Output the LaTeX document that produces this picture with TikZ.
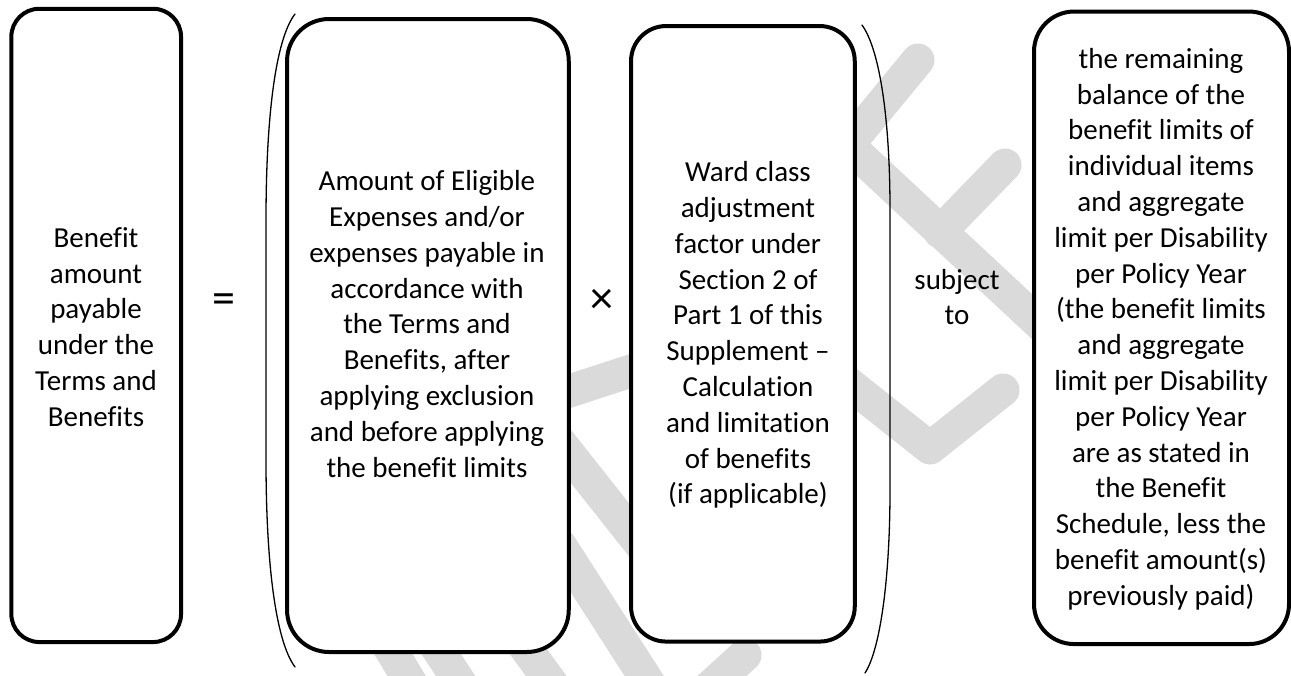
\documentclass[tikz,border=0pt]{standalone}
\usepackage{fontspec}
\setmainfont{Carlito}[Ligatures=NoCommon]
\definecolor{wm}{RGB}{218,218,218}
\begin{document}
\begin{tikzpicture}[x=1pt,y=-1pt,
  box/.style={draw=black,line width=4pt,fill=white,inner sep=0pt},
  txt/.style={align=center,font=\fontsize{29}{35.8}\selectfont,inner sep=0pt},
  op/.style={font=\fontsize{46}{50}\selectfont,inner sep=0pt},
  wmark/.style={draw=wm,line width=33pt,line cap=round,line join=round},
  paren/.style={line width=1.3pt,line cap=round}]
\useasboundingbox (0,0) rectangle (1291,675);
% watermark (behind the boxes)
\draw[wmark] (918,60) -- (848,145) -- (1100,380);
\draw[wmark] (1005,165) -- (940,232);
\draw[wmark] (800,345) -- (930,448) -- (1003,390);
\draw[wmark] (548,398) -- (640,368);
\draw[wmark] (550,430) -- (645,550);
\draw[wmark] (560,545) -- (650,685);
\draw[wmark] (385,640) -- (418,695);
\draw[wmark] (432,640) -- (468,695);
\draw[wmark] (520,640) -- (560,695);
\draw[wmark] (745,655) -- (690,705);
% boxes
\node[box,rounded corners=28pt,minimum width=169.7pt,minimum height=633.3pt] (b1) at (96.2,325.4) {};
\node[box,rounded corners=42pt,minimum width=281.7pt,minimum height=633pt] (b2) at (427.9,335.5) {};
\node[box,rounded corners=35pt,minimum width=223.7pt,minimum height=615.5pt] (b3) at (742.9,333.8) {};
\node[box,rounded corners=40pt,minimum width=255pt,minimum height=632.5pt] (b4) at (1161.5,327.8) {};
% parentheses
\draw[paren] (295,14) .. controls (275,40) and (266,120) .. (266,220) -- (266,460) .. controls (266,560) and (275,640) .. (295,667);
\draw[paren] (862,25) .. controls (880,50) and (890,120) .. (890,210) -- (890,490) .. controls (890,580) and (880,650) .. (865,673);
% texts
\node[txt] (t1) at (96,327) {Benefit\\amount\\payable\\under the\\Terms and\\Benefits};
\node[txt] (t2) at (427,324) {Amount of Eligible\\Expenses and/or\\expenses payable in\\accordance with\\the Terms and\\Benefits, after\\applying exclusion\\and before applying\\the benefit limits};
\node[txt] (t3) at (748,335) {Ward class\\adjustment\\factor under\\Section 2 of\\Part 1 of this\\Supplement –\\Calculation\\and limitation\\of benefits\\(if applicable)};
\node[txt] (t4) at (1161,329) {the remaining\\balance of the\\benefit limits of\\individual items\\and aggregate\\limit per Disability\\per Policy Year\\(the benefit limits\\and aggregate\\limit per Disability\\per Policy Year\\are as stated in\\the Benefit\\Schedule, less the\\benefit amount(s)\\previously paid)};
\node[txt] (subj) at (957,297) {subject\\to};
\node[op] (eq) at (223.7,304) {=};
\node[op] (times) at (602,301) {×};
\end{tikzpicture}
\end{document}
